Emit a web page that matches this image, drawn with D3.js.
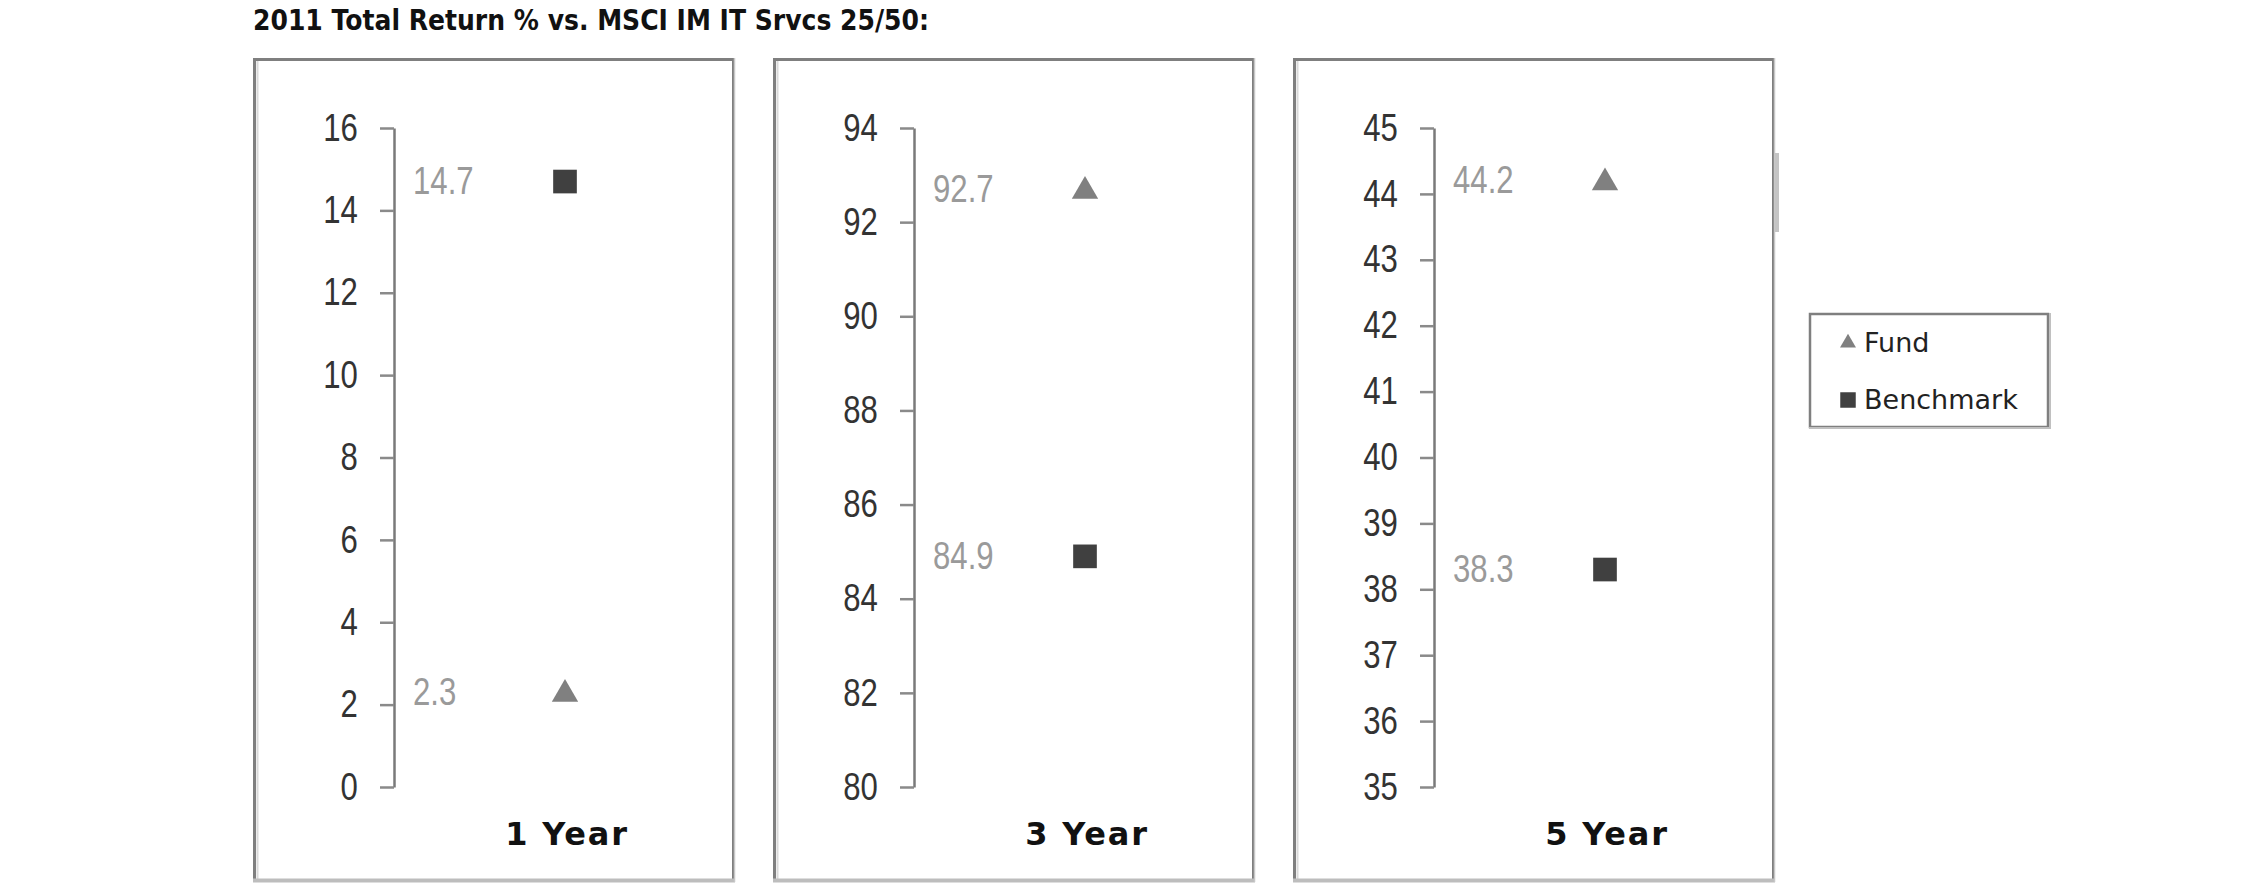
<!DOCTYPE html>
<html>
<head>
<meta charset="utf-8">
<script src="https://cdn.jsdelivr.net/npm/d3@7/dist/d3.min.js"></script>
<style>
  html, body { margin: 0; padding: 0; background: #ffffff; }
  svg { display: block; }
</style>
</head>
<body>
<svg id="chart" width="2250" height="895"></svg>
<script>
// ---- data ----
const titleText = "2011 Total Return % vs. MSCI IM IT Srvcs 25/50:";
const categories = ["1 Year", "3 Year", "5 Year"];
const fundValues = [2.3, 92.7, 44.2];
const benchmarkValues = [14.7, 84.9, 38.3];
const axisMin = [0, 80, 35];
const axisMax = [16, 94, 45];
const tickStep = [2, 2, 1];
const seriesNames = ["Fund", "Benchmark"];

// ---- layout ----
const svg = d3.select("#chart");
const panelTop = 58, panelHeight = 824;
const plotTop = 128, plotBottom = 787;
const axisOffset = 141, markerOffset = 312, labelOffset = 160;

const panelX = d3.scaleBand()
  .domain(categories)
  .range([253, 1775])
  .paddingInner(38 / 520)
  .paddingOuter(0);

const fundColor = "#808080";
const benchColor = "#404040";
const borderColor = "#7f7f7f";

// title
svg.append("text")
  .attr("x", 253)
  .attr("y", 30)
  .attr("font-family", "DejaVu Sans, Verdana, sans-serif")
  .attr("font-weight", "bold")
  .attr("font-size", 28)
  .attr("fill", "#111")
  .attr("textLength", 676)
  .attr("lengthAdjust", "spacingAndGlyphs")
  .text(titleText);

const triangle = d3.symbol().type(d3.symbolTriangle);
const square = d3.symbol().type(d3.symbolSquare);

categories.forEach((cat, i) => {
  const x0 = panelX(cat);
  const bw = panelX.bandwidth();
  const g = svg.append("g").attr("transform", `translate(${x0},0)`);

  // panel frame
  g.append("rect")
    .attr("x", 1.5).attr("y", panelTop + 1.5)
    .attr("width", bw - 3).attr("height", panelHeight - 3)
    .attr("fill", "#fff")
    .attr("stroke", borderColor)
    .attr("stroke-width", 3);
  g.append("line")
    .attr("x1", 4.5).attr("x2", 4.5).attr("y1", panelTop + 3).attr("y2", panelTop + panelHeight - 3)
    .attr("stroke", "#d9d9d9").attr("stroke-width", 2);
  g.append("line")
    .attr("x1", 0).attr("x2", bw).attr("y1", panelTop + panelHeight - 1.5).attr("y2", panelTop + panelHeight - 1.5)
    .attr("stroke", "#bdbdbd").attr("stroke-width", 4);
  g.append("line")
    .attr("x1", bw - 0.5).attr("x2", bw - 0.5).attr("y1", panelTop).attr("y2", panelTop + panelHeight)
    .attr("stroke", "#c8c8c8").attr("stroke-width", 1.5);

  // y scale & axis
  const y = d3.scaleLinear().domain([axisMin[i], axisMax[i]]).range([plotBottom, plotTop]);
  const ticks = d3.range(axisMin[i], axisMax[i] + tickStep[i] / 2, tickStep[i]);
  const axis = d3.axisLeft(y).tickValues(ticks).tickSize(14).tickSizeOuter(0).tickPadding(30).tickFormat(d3.format("d"));
  const ag = g.append("g").attr("transform", `translate(${axisOffset},0)`).call(axis);
  ag.select(".domain").attr("stroke", "#7a7a7a").attr("stroke-width", 2.5);
  ag.selectAll(".tick line").attr("stroke", "#8a8a8a").attr("stroke-width", 2.5);
  ag.selectAll(".tick text")
    .attr("font-family", "Liberation Sans, Arial, sans-serif")
    .attr("font-size", 38)
    .attr("fill", "#333")
    .attr("transform", "scale(0.82,1)");

  // data points
  const pts = [
    { name: seriesNames[0], v: fundValues[i], sym: triangle, size: 300, color: fundColor, dy: 2 },
    { name: seriesNames[1], v: benchmarkValues[i], sym: square, size: 560, color: benchColor, dy: 0 }
  ];
  pts.forEach(p => {
    g.append("path")
      .attr("d", p.sym.size(p.size)())
      .attr("transform", `translate(${markerOffset},${y(p.v) + p.dy})`)
      .attr("fill", p.color);
    g.append("text")
      .attr("transform", `translate(${labelOffset},${y(p.v)}) scale(0.82,1)`)
      .attr("dy", "0.33em")
      .attr("font-family", "Liberation Sans, Arial, sans-serif")
      .attr("font-size", 38)
      .attr("fill", "#9a9a9a")
      .text(d3.format(".1f")(p.v));
  });

  // category label
  g.append("text")
    .attr("x", 314)
    .attr("y", 845)
    .attr("text-anchor", "middle")
    .attr("font-family", "DejaVu Sans, Verdana, sans-serif")
    .attr("font-weight", "bold")
    .attr("font-size", 32)
    .attr("letter-spacing", 1.8)
    .attr("fill", "#111")
    .text(cat);
});

// small light artifact on the right of third panel
svg.append("rect")
  .attr("x", 1775).attr("y", 153).attr("width", 4).attr("height", 79)
  .attr("fill", "#c4c4c4");

// legend
const lg = svg.append("g").attr("transform", "translate(1809,313)");
lg.append("rect")
  .attr("x", 1).attr("y", 1).attr("width", 238).attr("height", 113)
  .attr("fill", "#fff").attr("stroke", borderColor).attr("stroke-width", 2.5);
lg.append("line").attr("x1", 0).attr("x2", 241).attr("y1", 115).attr("y2", 115)
  .attr("stroke", "#c0c0c0").attr("stroke-width", 2);
lg.append("line").attr("x1", 241).attr("x2", 241).attr("y1", 0).attr("y2", 116)
  .attr("stroke", "#c0c0c0").attr("stroke-width", 2);

const legendItems = [
  { name: seriesNames[0], sym: triangle, size: 110, color: fundColor, y: 29 },
  { name: seriesNames[1], sym: square, size: 240, color: benchColor, y: 86 }
];
legendItems.forEach(it => {
  lg.append("path")
    .attr("d", it.sym.size(it.size)())
    .attr("transform", `translate(39,${it.y + 1})`)
    .attr("fill", it.color);
  lg.append("text")
    .attr("x", 55)
    .attr("y", it.y)
    .attr("dy", "0.36em")
    .attr("font-family", "DejaVu Sans, Verdana, sans-serif")
    .attr("font-size", 27)
    .attr("fill", "#222")
    .text(it.name);
});
</script>
</body>
</html>
